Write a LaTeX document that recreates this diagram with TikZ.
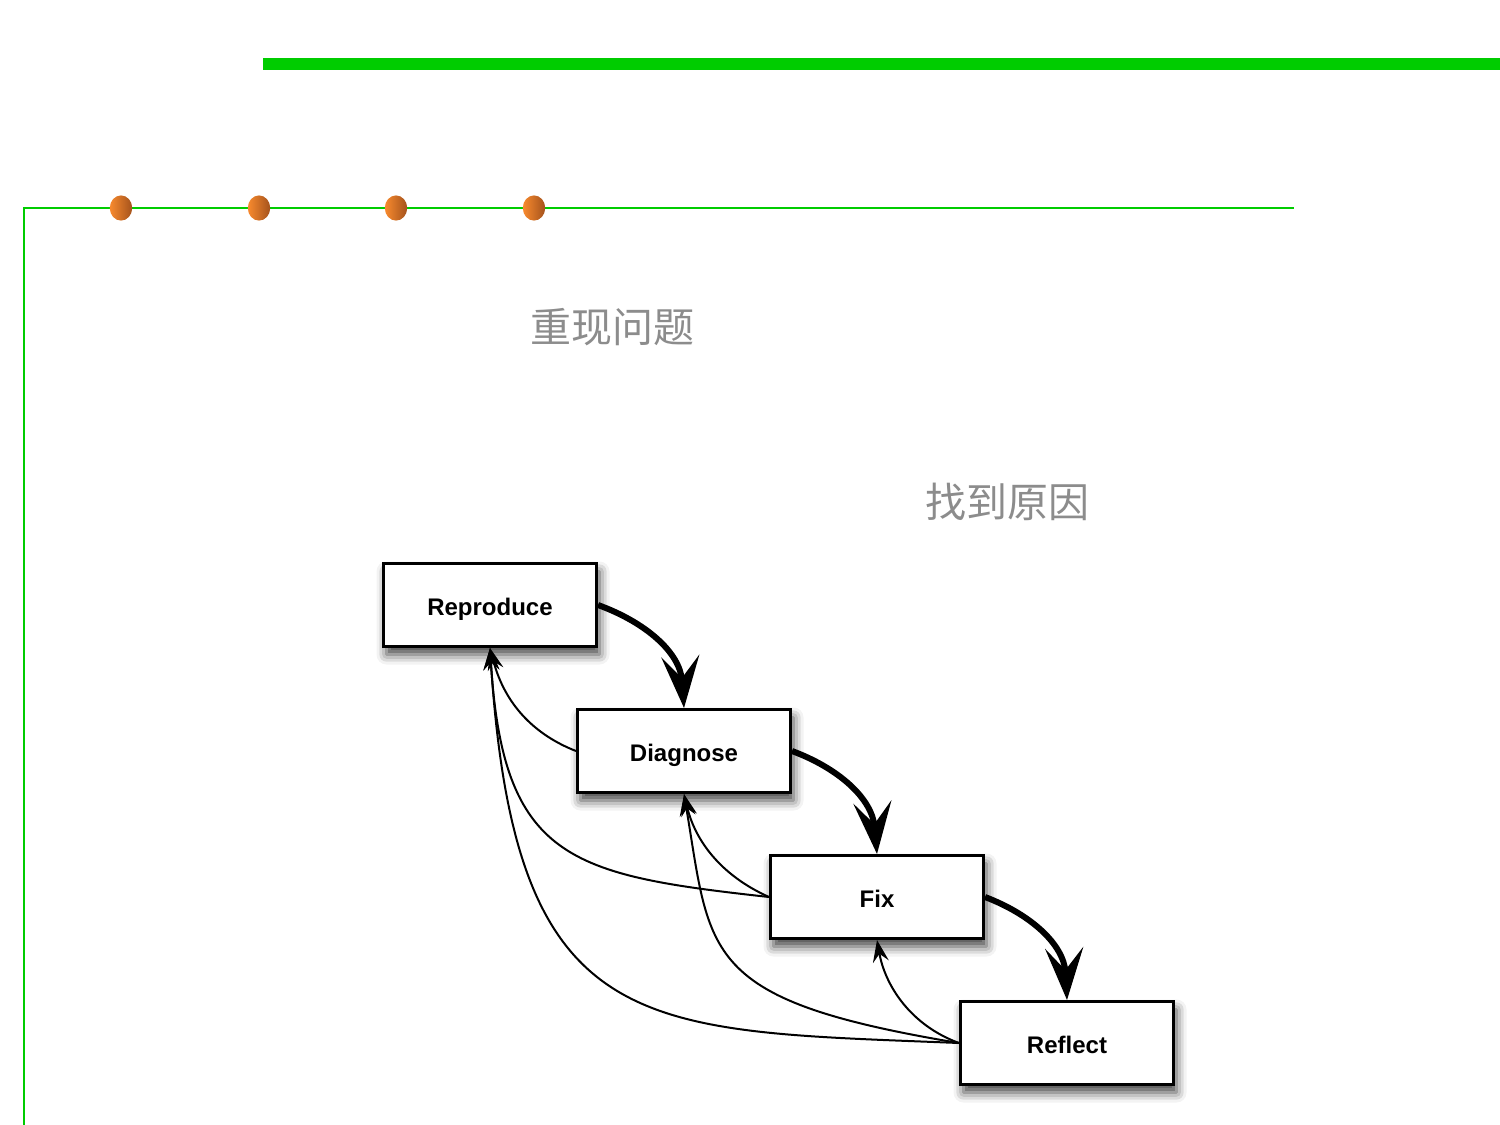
\documentclass[tikz,border=0pt]{standalone}
\usepackage{fontspec}
\setmainfont{Liberation Sans}
\newfontfamily\cjk{Noto Sans CJK SC}
\usetikzlibrary{arrows.meta,shadows.blur}
\definecolor{barGreen}{HTML}{00CC00}
\definecolor{dotLight}{HTML}{F88A2E}
\definecolor{dotDark}{HTML}{A4521C}
\definecolor{capGray}{HTML}{8C8C8C}
\tikzset{
  stage/.style={draw, line width=1.5pt, fill=white, minimum width=106.5pt,
    minimum height=41.5pt, inner sep=0pt, text height=10.6pt, text depth=0pt,
    font=\bfseries\fontsize{12}{14}\selectfont,
    blur shadow={shadow xshift=1.5pt, shadow yshift=-4pt,
      shadow blur radius=5pt, shadow opacity=75}},
  flow/.style={line width=3pt, -{Stealth[length=26pt,width=19pt,inset=11pt]}},
  back/.style={line width=1pt, -{Stealth[length=11pt,width=8pt,inset=4pt]}},
  caption/.style={font=\cjk\fontsize{20.5}{24}\selectfont, text=capGray},
  dot/.style={left color=dotLight, right color=dotDark},
}
\begin{document}
\begin{tikzpicture}[x=0.5pt,y=-0.5pt]
  \useasboundingbox (0,0) rectangle (1500,1125);

  % frame lines
  \fill[barGreen] (263,58) rectangle (1500,70);
  \draw[barGreen, line width=1pt] (24,1125) -- (24,208) -- (1294,208);

  % bullets on the rule
  \foreach \x in {121,259,396,534}
    \shade[dot] (\x,208) ellipse [x radius=5.6pt, y radius=6.3pt];

  % captions
  \node[caption] (capA) at (612,327) {重现问题};
  \node[caption] (capB) at (1007,502) {找到原因};

  % stages
  \node[stage] (rep) at (490,605) {Reproduce};
  \node[stage] (dia) at (684,751) {Diagnose};
  \node[stage] (fix) at (877,897) {Fix};
  \node[stage] (ref) at (1067,1043) {Reflect};

  % forward flow
  \draw[flow] (rep.east) .. controls (645,622) and (680,652) .. (dia.north);
  \draw[flow] (dia.east) .. controls (838,768) and (872,798) .. (fix.north);
  \draw[flow] (fix.east) .. controls (1030,914) and (1064,944) .. (ref.north);

  % feedback loops
  \draw[back] (dia.west) .. controls (535,735) and (505,705) .. (rep.south);
  \draw[back] (fix.west) .. controls (570,875) and (503,860) .. (rep.south);
  \draw[back] (ref.west) .. controls (640,1030) and (515,1040) .. (rep.south);
  \draw[back] (fix.west) .. controls (720,875) and (695,840) .. (dia.south);
  \draw[back] (ref.west) .. controls (700,1000) and (711,955) .. (dia.south);
  \draw[back] (ref.west) .. controls (910,1025) and (885,985) .. (fix.south);
\end{tikzpicture}
\end{document}
